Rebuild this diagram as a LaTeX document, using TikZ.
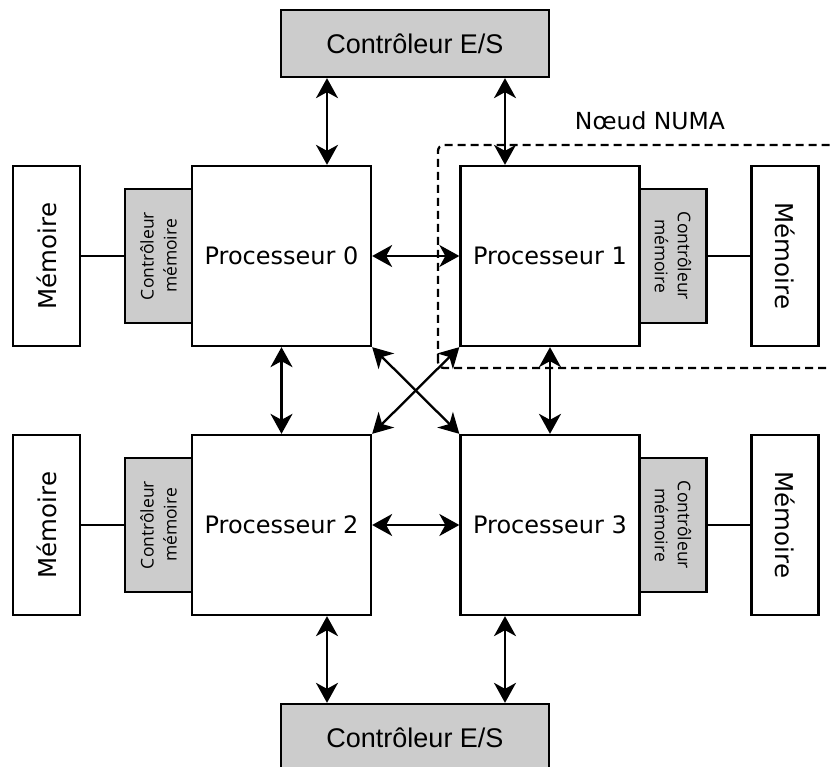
\documentclass[tikz,border=0pt]{standalone}
\usepackage{fontspec}
\setmainfont{DejaVu Sans}
\newfontfamily\arialf{Liberation Sans}
\newfontfamily\openf{Open Sans}
\usetikzlibrary{arrows.meta}
\tikzset{
  box/.style={draw=black, line width=2.3pt, inner sep=0pt, align=center},
  proc/.style={box, fill=white, minimum width=179pt, minimum height=180pt, font=\fontsize{24}{28}\selectfont},
  mem/.style={box, fill=white, minimum width=67pt, minimum height=180pt},
  mctl/.style={box, fill=black!20, minimum width=67pt, minimum height=134pt},
  io/.style={box, fill=black!20, minimum width=268pt, minimum height=67pt, font=\arialf\fontsize{27}{32}\selectfont},
  memtxt/.style={font=\fontsize{24.5}{28}\selectfont},
  mctxt/.style={font=\openf\fontsize{17.5}{23}\selectfont, align=center},
  arr/.style={line width=2.3pt, {Stealth[length=20pt,width=22pt,inset=6pt]}-{Stealth[length=20pt,width=22pt,inset=6pt]}},
  link/.style={line width=2.3pt},
}
\begin{document}
\begin{tikzpicture}[x=1pt,y=-1pt]
\useasboundingbox (0,0) rectangle (831,767);
% NUMA node
\draw[line width=2.3pt, dash pattern=on 8pt off 5pt, rounded corners=6pt] (438,368) -- (438,145) -- (845,145) -- (845,368) -- cycle;
\node[font=\fontsize{23.5}{28}\selectfont] (numa) at (650,121) {Nœud NUMA};
% IO controllers
\node[io] (io1) at (415,43.5) {Contrôleur E/S};
\node[io] (io2) at (415,737.5) {Contrôleur E/S};
% processors
\node[proc] (p0) at (281.5,256) {Processeur 0};
\node[proc] (p1) at (550,256) {Processeur 1};
\node[proc] (p2) at (281.5,525) {Processeur 2};
\node[proc] (p3) at (550,525) {Processeur 3};
% memory controllers
\node[mctl] (mc0) at (158.5,256) {};
\node[mctl] (mc1) at (673,256) {};
\node[mctl] (mc2) at (158.5,525) {};
\node[mctl] (mc3) at (673,525) {};
\node[mctxt, rotate=90] (mct0) at (mc0.center) {Contrôleur\\mémoire};
\node[mctxt, rotate=-90] (mct1) at (mc1.center) {Contrôleur\\mémoire};
\node[mctxt, rotate=90] (mct2) at (mc2.center) {Contrôleur\\mémoire};
\node[mctxt, rotate=-90] (mct3) at (mc3.center) {Contrôleur\\mémoire};
% memories
\node[mem] (m0) at (46.5,256) {};
\node[mem] (m1) at (785,256) {};
\node[mem] (m2) at (46.5,525) {};
\node[mem] (m3) at (785,525) {};
\node[memtxt, rotate=90] (mt0) at (m0.center) {Mémoire};
\node[memtxt, rotate=-90] (mt1) at (m1.center) {Mémoire};
\node[memtxt, rotate=90] (mt2) at (m2.center) {Mémoire};
\node[memtxt, rotate=-90] (mt3) at (m3.center) {Mémoire};
% memory links
\draw[link] (m0.east) -- (mc0.west);
\draw[link] (mc1.east) -- (m1.west);
\draw[link] (m2.east) -- (mc2.west);
\draw[link] (mc3.east) -- (m3.west);
% IO arrows
\draw[arr] ([xshift=45.5pt]p0.north) -- ([xshift=45.5pt]p0.north |- io1.south);
\draw[arr] ([xshift=-45pt]p1.north) -- ([xshift=-45pt]p1.north |- io1.south);
\draw[arr] ([xshift=45.5pt]p2.south) -- ([xshift=45.5pt]p2.south |- io2.north);
\draw[arr] ([xshift=-45pt]p3.south) -- ([xshift=-45pt]p3.south |- io2.north);
% processor interconnect
\draw[arr] (p0.east) -- (p1.west);
\draw[arr] (p2.east) -- (p3.west);
\draw[arr] (p0.south) -- (p2.north);
\draw[arr] (p1.south) -- (p3.north);
\draw[arr] (p0.south east) -- (p3.north west);
\draw[arr] (p2.north east) -- (p1.south west);
\end{tikzpicture}
\end{document}
